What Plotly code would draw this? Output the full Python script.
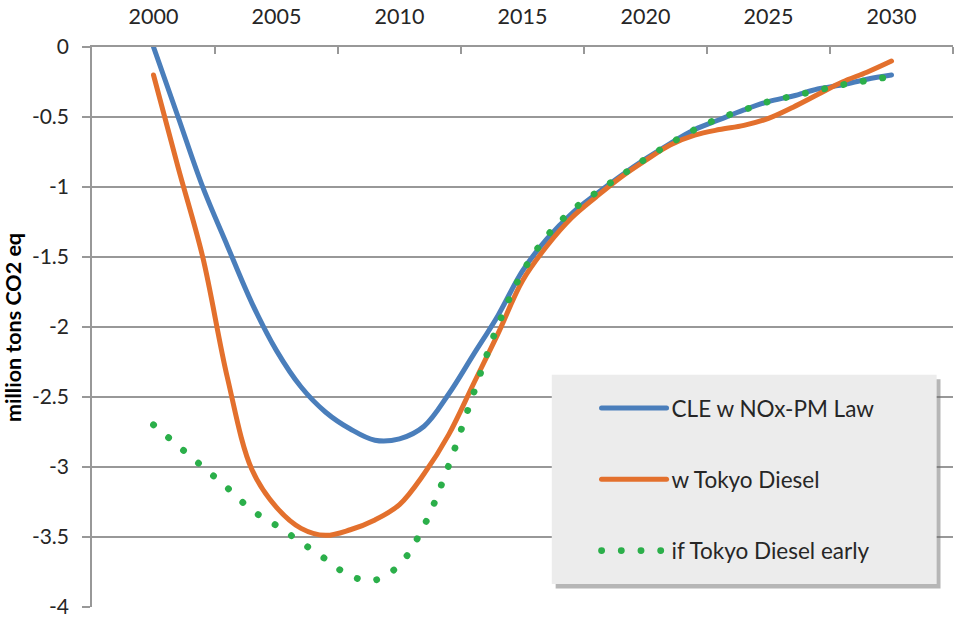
import plotly.graph_objects as go

years = list(range(2000, 2031))

cle_nox_pm = [0.0, -0.50, -1.00, -1.42, -1.83, -2.17, -2.43, -2.61, -2.73, -2.81,
              -2.80, -2.71, -2.48, -2.20, -1.92, -1.60, -1.37, -1.19, -1.05, -0.92,
              -0.80, -0.69, -0.59, -0.52, -0.45, -0.39, -0.35, -0.30, -0.27, -0.23, -0.20]

tokyo_diesel = [-0.20, -0.86, -1.50, -2.36, -3.02, -3.29, -3.44, -3.49, -3.45, -3.38,
                -3.27, -3.05, -2.77, -2.41, -2.05, -1.67, -1.42, -1.22, -1.07, -0.93,
                -0.81, -0.70, -0.63, -0.59, -0.56, -0.51, -0.43, -0.34, -0.25, -0.18, -0.10]

tokyo_diesel_early = [-2.70, -2.85, -3.00, -3.15, -3.31, -3.42, -3.54, -3.66, -3.78, -3.81,
                      -3.70, -3.42, -2.99, -2.48, -1.99, -1.61, -1.35, -1.17, -1.04, -0.92,
                      -0.80, -0.69, -0.59, -0.51, -0.45, -0.39, -0.35, -0.31, -0.27, -0.24, -0.21]

series_names = ["CLE w NOx-PM Law", "w Tokyo Diesel", "if Tokyo Diesel early"]
y_title = "million tons CO2 eq"
x_label_years = [2000, 2005, 2010, 2015, 2020, 2025, 2030]
x_tick_marks = [2002.5, 2007.5, 2012.5, 2017.5, 2022.5, 2027.5, 2032.5]
y_tick_vals = [0, -0.5, -1, -1.5, -2, -2.5, -3, -3.5, -4]
y_tick_text = ["0", "-0.5", "-1", "-1.5", "-2", "-2.5", "-3", "-3.5", "-4"]

BLUE = "#4A7EBB"
ORANGE = "#E3702D"
GREEN = "#2BAF4A"
GRID = "#989898"
TXT = "#262626"
FONT = "Lato"

fig = go.Figure()
fig.add_trace(go.Scatter(x=years, y=cle_nox_pm, mode="lines", name=series_names[0],
                         line=dict(color=BLUE, width=5, shape="spline"),
                         legendgroup="a"))
fig.add_trace(go.Scatter(x=years, y=tokyo_diesel, mode="lines", name=series_names[1],
                         line=dict(color=ORANGE, width=5, shape="spline"),
                         legendgroup="b"))
fig.add_trace(go.Scatter(x=years, y=tokyo_diesel_early, mode="lines", name=series_names[2],
                         line=dict(color=GREEN, width=6.8, shape="spline", dash="5px,14px"),
                         legendgroup="c"))

# legend box with shadow
bx0, bx1, by0, by1 = 0.534, 0.981, 0.041, 0.4146
fig.add_shape(type="rect", xref="paper", yref="paper", layer="above",
              x0=bx0 + 0.0045, x1=bx1 + 0.0045, y0=by0 - 0.008, y1=by1 - 0.008,
              fillcolor="rgba(110,110,110,0.5)", line=dict(width=0))
fig.add_shape(type="rect", xref="paper", yref="paper", layer="above",
              x0=bx0, x1=bx1, y0=by0, y1=by1,
              fillcolor="#ECECEC", line=dict(width=0))

fig.add_annotation(text=y_title, xref="paper", yref="paper", x=-0.0918, y=0.5,
                   xanchor="center", yanchor="middle", textangle=-90, showarrow=False,
                   font=dict(family=FONT, size=21.5, color="black", weight="bold"))

fig.update_layout(
    width=956, height=619,
    margin=dict(l=92, r=3, t=47, b=12),
    paper_bgcolor="white", plot_bgcolor="white",
    font=dict(family=FONT, size=21, color=TXT),
    showlegend=True,
    legend=dict(x=0.586, y=0.393, xanchor="left", yanchor="top",
                bgcolor="rgba(0,0,0,0)", borderwidth=0,
                font=dict(family=FONT, size=22.5, color=TXT),
                tracegroupgap=39, itemwidth=65, traceorder="grouped"),
    xaxis=dict(range=[1997.5, 2032.5], side="top", automargin=False,
               tickmode="array", tickvals=x_label_years,
               ticks="", showgrid=False, zeroline=False,
               showline=True, linecolor=GRID, linewidth=1.6,
               ticklabelstandoff=13, ticklabeloverflow="allow",
               tickfont=dict(family=FONT, size=21.5, color=TXT),
               minor=dict(tickmode="array", tickvals=x_tick_marks, ticks="inside",
                          ticklen=7, tickwidth=1.5, tickcolor=GRID, showgrid=False)),
    yaxis=dict(range=[-4.002, 0], tickmode="array", tickvals=y_tick_vals, ticktext=y_tick_text,
               automargin=False, ticklabeloverflow="allow",
               ticks="outside", ticklen=8, tickwidth=1.5, tickcolor=GRID,
               showgrid=True, gridcolor=GRID, gridwidth=1.6,
               zeroline=False, showline=True, linecolor=GRID, linewidth=1.6,
               ticklabelstandoff=9,
               tickfont=dict(family=FONT, size=21, color=TXT)),
)

post = """
document.body.style.margin = '0';
document.body.style.padding = '0';
var gd = document.getElementsByClassName('plotly-graph-div')[0];
function fixDots(){
  var paths = gd.querySelectorAll('path.js-line');
  paths.forEach(function(p){
    p.style.strokeLinecap = 'round';
    p.style.strokeLinejoin = 'round';
    var da = p.style.strokeDasharray || p.getAttribute('stroke-dasharray');
    if (da && da !== 'none' && da !== '') {
      p.style.strokeDasharray = '0.1px, 19.6px';
    }
  });
}
fixDots();
gd.on('plotly_afterplot', fixDots);
setTimeout(fixDots, 50);
"""

fig.write_html("out.html", config={"displayModeBar": False}, post_script=post)
